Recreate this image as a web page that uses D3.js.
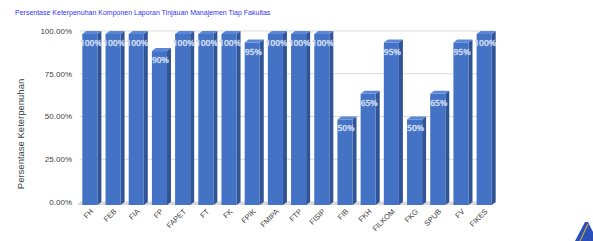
<!DOCTYPE html>
<html>
<head>
<meta charset="utf-8">
<script src="https://cdn.jsdelivr.net/npm/d3@7/dist/d3.min.js"></script>
<style>
  body { margin: 0; background: #fff; }
  svg { display: block; }
</style>
</head>
<body>
<div id="container"></div>
<script>
let w = 593;
let h = 241;

// data
let faculties = ["FH","FEB","FIA","FP","FAPET","FT","FK","FPIK","FMIPA","FTP","FISIP","FIB","FKH","FILKOM","FKG","SPUB","FV","FIKES"];
let values = [1, 1, 1, 0.9, 1, 1, 1, 0.95, 1, 1, 1, 0.5, 0.65, 0.95, 0.5, 0.65, 0.95, 1];
let tickValues = [0, 0.25, 0.5, 0.75, 1];

let title = "Persentase Keterpenuhan Komponen Laporan Tinjauan Manajemen Tiap Fakultas";
let yTitle = "Persentase Keterpenuhan";

// 3d depth
let dx = 4, dy = 3;

let viz = d3.select("#container").append("svg")
    .attr("width", w)
    .attr("height", h)
    .style("background-color", "white");

let x = d3.scaleBand().domain(faculties).range([80, 494]).paddingInner(0.35).paddingOuter(0.1);
let y = d3.scaleLinear().domain([0, 1]).range([205, 34]);

// title
viz.append("text")
  .attr("x", 15).attr("y", 15)
  .attr("font-family", "Liberation Sans, Arial, sans-serif")
  .attr("font-size", 7)
  .attr("fill", "#3535ee")
  .text(title);

// back wall gridlines
viz.append("g").selectAll("line").data(tickValues).enter()
  .append("line")
  .attr("x1", 80).attr("x2", 495)
  .attr("y1", d => y(d) - dy).attr("y2", d => y(d) - dy)
  .attr("stroke", "#d9d9d9").attr("stroke-width", 1);

// floor
viz.append("polygon")
  .attr("points", [[77, y(0)], [491, y(0)], [495, y(0) - dy], [80, y(0) - dy]].map(p => p.join(",")).join(" "))
  .attr("fill", "#d9d9d9");

// y tick labels
viz.append("g").selectAll("text").data(tickValues).enter()
  .append("text")
  .attr("x", 72)
  .attr("y", d => y(d) - dy)
  .attr("dy", "0.35em")
  .attr("text-anchor", "end")
  .attr("font-family", "Liberation Sans, Arial, sans-serif")
  .attr("font-size", 8)
  .attr("fill", "#404040")
  .text(d => d3.format(".2%")(d));

// y title
viz.append("text")
  .attr("transform", "translate(24,134) rotate(-90)")
  .attr("text-anchor", "middle")
  .attr("font-family", "Liberation Sans, Arial, sans-serif")
  .attr("font-size", 9.5)
  .attr("fill", "#404040")
  .text(yTitle);

// bars
let bars = viz.append("g").selectAll("g").data(faculties).enter().append("g");

bars.append("polygon") // side
  .attr("points", (d, i) => {
    let x1 = x(d) + x.bandwidth();
    let top = y(values[i]);
    return [[x1, top], [x1 + dx, top - dy], [x1 + dx, y(0) - dy], [x1, y(0)]].map(p => p.join(",")).join(" ");
  })
  .attr("fill", "#2f5597");

bars.append("polygon") // top
  .attr("points", (d, i) => {
    let x0 = x(d), x1 = x(d) + x.bandwidth();
    let top = y(values[i]);
    return [[x0, top], [x0 + dx, top - dy], [x1 + dx, top - dy], [x1, top]].map(p => p.join(",")).join(" ");
  })
  .attr("fill", "#5b87d8");

bars.append("rect") // front
  .attr("x", d => x(d))
  .attr("y", (d, i) => y(values[i]))
  .attr("width", x.bandwidth())
  .attr("height", (d, i) => y(0) - y(values[i]))
  .attr("fill", "#4472c4");

// value labels
bars.append("text")
  .attr("x", d => x(d) + x.bandwidth() / 2 + 1)
  .attr("y", (d, i) => y(values[i]) + 9)
  .attr("dy", "0.35em")
  .attr("text-anchor", "middle")
  .attr("font-family", "Open Sans, sans-serif")
  .attr("font-weight", 600)
  .attr("font-size", 8.5)
  .attr("fill", "white")
  .attr("stroke", "#a9c0ec")
  .attr("stroke-width", 0.4)
  .text((d, i) => Math.round(values[i] * 100) + "%");

// x labels
viz.append("g").selectAll("text").data(faculties).enter()
  .append("text")
  .attr("transform", d => "translate(" + (x(d) + x.bandwidth() / 2 + 4) + "," + 212 + ") rotate(-45)")
  .attr("text-anchor", "end")
  .attr("font-family", "Liberation Sans, Arial, sans-serif")
  .attr("font-size", 7.5)
  .attr("fill", "#404040")
  .text(d => d);

// corner decoration
viz.append("polygon")
  .attr("points", "575,241 585,222 588,222 593,232 593,241")
  .attr("fill", "#2a4fb8");
viz.append("line")
  .attr("x1", 580).attr("y1", 241).attr("x2", 588).attr("y2", 224)
  .attr("stroke", "#c9a74a").attr("stroke-width", 1.2);
</script>
</body>
</html>
